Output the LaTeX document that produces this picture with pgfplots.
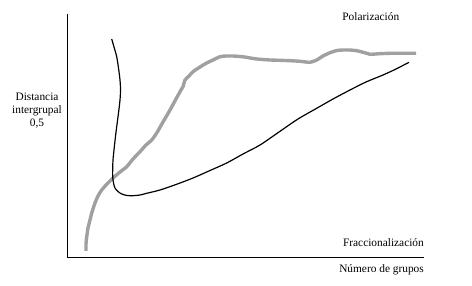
\documentclass[border=0pt]{standalone}
\usepackage{fontspec}
\setmainfont{Liberation Serif}
\usepackage{pgfplots}
\pgfplotsset{compat=1.18}
\begin{document}
\begin{tikzpicture}[x=1bp,y=1bp]
\begin{axis}[
  scale only axis,
  width=357bp, height=243bp,
  xmin=67, xmax=424, ymin=14, ymax=257,
  y dir=reverse,
  axis lines=left,
  axis line style={-, line width=0.9pt, black},
  xtick=\empty, ytick=\empty,
  clip=false,
  font=\fontsize{11.4}{13}\selectfont,
]
\path (axis cs:0,0) rectangle (axis cs:472,286);
\addplot[color={rgb,255:red,160;green,160;blue,160}, line width=3.4pt, smooth, tension=0.4] coordinates {
(86,251)(86,244)(86.7,237)(88,228)(90,220)(91.7,213)(95,203)(98,196)(101.7,190)(107,184)(113,178)(120,172)(126.7,166.7)(133,159)(140,151.7)(146,145)(151.7,140)(156.7,133)(163,122)(170,110)(176,99)(181,90)(183,86.7)(185,80)(189,76)(193,71.7)(200,67)(206.7,63)(213,60)(220,56.7)(226,56)(233,56)(240,56.5)(246.7,57.3)(253,58.5)(260,59.3)(270,60)(280,60.3)(290,60.7)(300,61.3)(310,62.3)(316.7,60)(323,56)(330,52.7)(337,50.5)(343,50)(350,50)(356.7,50.7)(362,52)(366.7,53.3)(370,54.3)(380,53.7)(390,53.3)(400,53.3)(416,53.3)
};
\addplot[black, line width=1.2pt, smooth, tension=0.5] coordinates {
(111.7,39)(114,47)(116.7,56.7)(118.5,68)(120,80)(120.5,90)(120,100)(118.5,113)(116.7,126.7)(115.3,138)(114,150)(113,160)(112.7,168)(112.7,176.7)(113.5,183)(115,188)(118,191.5)(121.7,194)(127,195.5)(133,195.7)(140,195)(146.7,193.3)(160,190)(176,184.5)(193,178)(210,170.5)(226.7,163)(243,154)(260,145)(279,132)(298,119)(316.7,108.3)(333,99)(350,90)(366,82)(383,75)(396,69)(409,62.3)
};
\node[anchor=base, font=\fontsize{11.4}{13}\selectfont] at (axis cs:370.8,21) {Polarización};
\node[anchor=base east, inner sep=0pt, font=\fontsize{11.4}{13}\selectfont] at (axis cs:424,246) {Fraccionalización};
\node[anchor=base east, inner sep=0pt, font=\fontsize{11.4}{13}\selectfont] at (axis cs:424,272) {Número de grupos};
\node[align=center, anchor=base, inner sep=0pt, font=\fontsize{11.4}{13}\selectfont] at (axis cs:37,126) {Distancia\\intergrupal\\0,5};
\end{axis}
\end{tikzpicture}
\end{document}
